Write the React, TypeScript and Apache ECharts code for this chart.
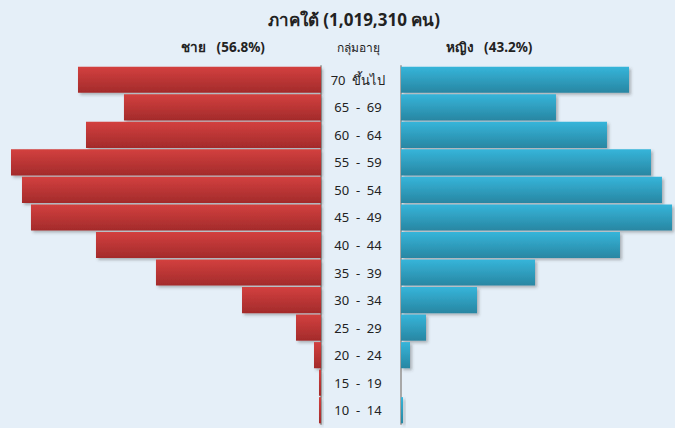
import React, { useEffect, useRef } from "react";
import * as echarts from "echarts";

const ageGroups = ["70  ขึ้นไป", "65  -  69", "60  -  64", "55  -  59", "50  -  54", "45  -  49", "40  -  44", "35  -  39", "30  -  34", "25  -  29", "20  -  24", "15  -  19", "10  -  14"];
const maleValues = [67650, 54850, 65420, 86300, 83240, 80740, 62640, 45940, 21990, 6960, 1950, 560, 560];
const femaleValues = [54360, 36950, 49110, 59600, 62220, 64610, 52210, 31950, 18120, 5960, 2150, 0, 480];
const titleText = "ภาคใต้ (1,019,310 คน)";
const maleHeader = "ชาย   (56.8%)";
const femaleHeader = "หญิง   (43.2%)";
const ageHeader = "กลุ่มอายุ";

const FONT = "Tahoma, 'Noto Sans', 'DejaVu Sans', sans-serif";

export default function App() {
  const ref = useRef<HTMLDivElement>(null);
  useEffect(() => {
    if (!ref.current) return;
    const chart = echarts.init(ref.current, null, { renderer: "svg" });
    const shadow = {
      shadowColor: "rgba(60,60,60,0.35)",
      shadowBlur: 3,
      shadowOffsetX: 2,
      shadowOffsetY: 2,
    };
    chart.setOption({
      animation: false,
      backgroundColor: "#e5eff8",
      textStyle: { fontFamily: FONT },
      graphic: [
        { type: "text", x: 354, y: 19, style: { text: titleText, font: `bold 17px ${FONT}`, fill: "#222", textAlign: "center", textVerticalAlign: "middle" } },
        { type: "text", x: 223, y: 47, style: { text: maleHeader, font: `bold 13.5px ${FONT}`, fill: "#222", textAlign: "center", textVerticalAlign: "middle" } },
        { type: "text", x: 358, y: 47, style: { text: ageHeader, font: `12px ${FONT}`, fill: "#222", textAlign: "center", textVerticalAlign: "middle" } },
        { type: "text", x: 489, y: 47, style: { text: femaleHeader, font: `bold 13.5px ${FONT}`, fill: "#222", textAlign: "center", textVerticalAlign: "middle" } },
      ],
      grid: [
        { left: 11, right: 354, top: 66, bottom: 4 },
        { left: 401, right: 3, top: 66, bottom: 4 },
      ],
      xAxis: [
        { type: "value", gridIndex: 0, inverse: true, min: 0, max: 86300, show: false },
        { type: "value", gridIndex: 1, min: 0, max: 64610, show: false },
      ],
      yAxis: [
        {
          type: "category", gridIndex: 0, data: ageGroups, inverse: true, position: "right",
          axisLine: { show: true, lineStyle: { color: "#a8a8a8", width: 2 } },
          axisTick: { show: false }, axisLabel: { show: false }, splitLine: { show: false },
        },
        {
          type: "category", gridIndex: 1, data: ageGroups, inverse: true, position: "left",
          axisLine: { show: true, lineStyle: { color: "#a8a8a8", width: 2 } },
          axisTick: { show: false }, splitLine: { show: false },
          axisLabel: { show: true, align: "center", margin: 43, color: "#222", fontSize: 13, fontFamily: FONT },
        },
      ],
      series: [
        {
          type: "bar", xAxisIndex: 0, yAxisIndex: 0, data: maleValues, barCategoryGap: "5%",
          itemStyle: {
            color: new echarts.graphic.LinearGradient(0, 0, 0, 1, [
              { offset: 0, color: "#d3403f" },
              { offset: 1, color: "#a32b2b" },
            ]),
            ...shadow,
          },
        },
        {
          type: "bar", xAxisIndex: 1, yAxisIndex: 1, data: femaleValues, barCategoryGap: "5%",
          itemStyle: {
            color: new echarts.graphic.LinearGradient(0, 0, 0, 1, [
              { offset: 0, color: "#36b5da" },
              { offset: 1, color: "#2886a2" },
            ]),
            ...shadow,
          },
        },
      ],
    });
    return () => chart.dispose();
  }, []);
  return <div ref={ref} style={{ width: 675, height: 428, position: "absolute", left: 0, top: 0 }} />;
}
